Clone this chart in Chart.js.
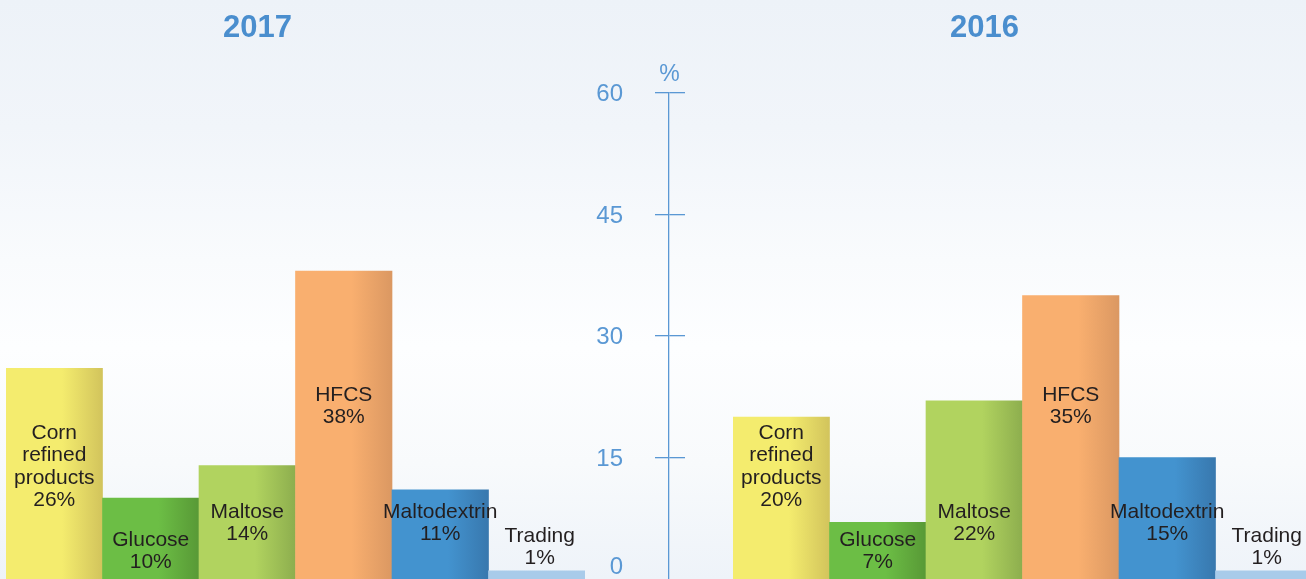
<!DOCTYPE html>
<html>
<head>
<meta charset="utf-8">
<script src="https://cdn.jsdelivr.net/npm/chart.js@4.4.1/dist/chart.umd.min.js"></script>
<style>
  html, body { margin: 0; padding: 0; width: 1306px; height: 579px; overflow: hidden; }
  body {
    position: relative;
    background: linear-gradient(to bottom, #EDF2F8 0%, #F1F5FA 22%, #F9FBFD 45%, #FDFEFF 60%, #F8FAFC 80%, #EEF3F9 100%);
  }
  canvas { position: absolute; top: 0; }
</style>
</head>
<body>
<canvas id="left" width="579" height="579" style="left:6px"></canvas>
<canvas id="axis" width="201" height="579" style="left:569px"></canvas>
<canvas id="right" width="579" height="579" style="left:733px"></canvas>
<script>
// ---------- data ----------
const categories = [['Corn', 'refined', 'products'], ['Glucose'], ['Maltose'], ['HFCS'], ['Maltodextrin'], ['Trading']];
const values2017 = [26, 10, 14, 38, 11, 1];
const values2016 = [20, 7, 22, 35, 15, 1];
const yearTitles = ['2017', '2016'];
const axisTicks = [0, 15, 30, 45, 60];
const axisUnit = '%';
// label anchor (value on y scale where first text line is centred)
const labelAnchor = [18.0, 4.8, 8.3, 22.7, 8.3, 5.3];

// ---------- styles ----------
const baseColors = ['#F4EC6E', '#6CBE45', '#B1D35F', '#F9AF6F', '#4393CF', '#A8CBEA'];
const edgeColors = ['#D2C45C', '#589936', '#8DAE4E', '#DB9862', '#3878AE', '#A8CBEA'];
const axisBlue = '#5A98D4';
const textDark = '#231F20';
const FONT = "'Liberation Sans', Arial, Helvetica, sans-serif";

function barColor(ctx) {
  const i = ctx.dataIndex;
  const chart = ctx.chart;
  const xs = chart.scales && chart.scales.x;
  if (ctx.type !== 'data' || !xs || !chart.chartArea) return baseColors[i] || '#ccc';
  const w = xs.width / categories.length;
  const cx = xs.getPixelForValue(i);
  const g = chart.ctx.createLinearGradient(cx - w / 2, 0, cx + w / 2, 0);
  g.addColorStop(0, baseColors[i]);
  g.addColorStop(0.58, baseColors[i]);
  g.addColorStop(1, edgeColors[i]);
  return g;
}

const labelPlugin = {
  id: 'barLabels',
  afterDatasetsDraw(chart, args, opts) {
    const { ctx } = chart;
    const meta = chart.getDatasetMeta(0);
    const ys = chart.scales.y;
    const vals = chart.data.datasets[0].data;
    ctx.save();
    ctx.fillStyle = textDark;
    ctx.font = '21px ' + FONT;
    ctx.textAlign = 'center';
    ctx.textBaseline = 'middle';
    meta.data.forEach((bar, i) => {
      const lines = categories[i].concat([vals[i] + '%']);
      const y0 = ys.getPixelForValue(labelAnchor[i]);
      const dx = i === categories.length - 1 ? 3 : 0;
      lines.forEach((t, k) => ctx.fillText(t, bar.x + dx, y0 + k * 22.5));
    });
    // year title
    ctx.fillStyle = '#4A8ECE';
    ctx.font = 'bold 31px ' + FONT;
    const ca = chart.chartArea;
    ctx.fillText(opts.title, (ca.left + ca.right) / 2 - 38, 28);
    ctx.restore();
  }
};

function barChart(id, values, title) {
  return new Chart(document.getElementById(id), {
    type: 'bar',
    data: {
      labels: categories,
      datasets: [{
        data: values,
        backgroundColor: barColor,
        borderWidth: 0,
        categoryPercentage: 1,
        barPercentage: 1
      }]
    },
    options: {
      responsive: false,
      animation: false,
      devicePixelRatio: 1,
      layout: { padding: { top: 93, left: 0, right: 0, bottom: 0 } },
      plugins: { legend: { display: false }, tooltip: { enabled: false }, barLabels: { title } },
      scales: {
        x: { display: false },
        y: { display: false, min: 0, max: 60 }
      }
    },
    plugins: [labelPlugin]
  });
}

barChart('left', values2017, yearTitles[0]);
barChart('right', values2016, yearTitles[1]);

// central axis
const tickColor = c => (c.tick && c.tick.value === 0 ? 'rgba(0,0,0,0)' : axisBlue);
new Chart(document.getElementById('axis'), {
  type: 'line',
  data: { labels: [''], datasets: [{ data: [], yAxisID: 'y' }] },
  options: {
    responsive: false,
    animation: false,
    devicePixelRatio: 1,
    layout: { padding: 0 },
    plugins: {
      legend: { display: false },
      tooltip: { enabled: false },
      title: {
        display: true,
        text: axisUnit,
        color: axisBlue,
        font: { family: FONT, size: 23, weight: 'normal', lineHeight: 1 },
        padding: { top: 63, bottom: 7 }
      }
    },
    scales: {
      x: { display: false },
      y: {
        position: 'left',
        min: axisTicks[0],
        max: axisTicks[axisTicks.length - 1],
        afterBuildTicks(scale) { scale.ticks = axisTicks.map(v => ({ value: v })); },
        afterFit(scale) { scale.width = 100; scale.paddingTop = 0; scale.paddingBottom = 0; },
        ticks: {
          color: axisBlue,
          font: { family: FONT, size: 24, lineHeight: 1.1 },
          padding: 32,
          labelOffset: 1.5,
          callback: v => (v === 0 ? ['0', ''] : String(v))
        },
        grid: { display: true, drawOnChartArea: true, drawTicks: true, tickLength: 14, lineWidth: 1.3, color: tickColor },
        border: { display: true, color: axisBlue, width: 1.3 }
      },
      y2: {
        position: 'right',
        min: axisTicks[0],
        max: axisTicks[axisTicks.length - 1],
        afterBuildTicks(scale) { scale.ticks = axisTicks.map(v => ({ value: v })); },
        afterFit(scale) { scale.width = 100; scale.paddingTop = 0; scale.paddingBottom = 0; },
        ticks: { display: false },
        grid: { display: true, drawOnChartArea: false, drawTicks: true, tickLength: 15, lineWidth: 1.3, color: tickColor },
        border: { display: false }
      }
    }
  }
});
</script>
</body>
</html>
